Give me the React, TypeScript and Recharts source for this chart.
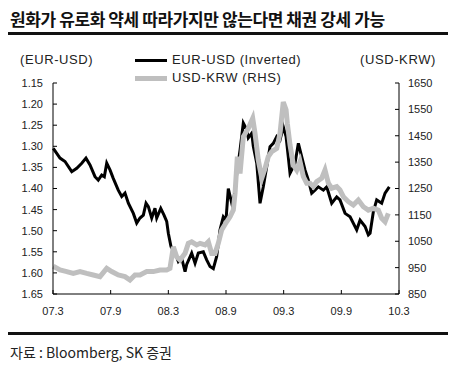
import { Line, LineChart, XAxis, YAxis } from 'recharts';

// EUR-USD (inverted, left axis) vs USD-KRW (right axis), Mar 2007 – Mar 2010.
// x = months since 2007-03. Each series has its own sample points.

const eurMonths = [
  0.03, 0.73, 1.25, 1.95, 2.47, 2.99, 3.43, 3.85, 4.37, 4.71, 5.07, 5.34, 5.59, 5.93, 6.27, 6.79,
  7.15, 7.49, 7.84, 8.36, 8.71, 9.05, 9.4, 9.68, 9.92, 10.27, 10.61, 10.79, 11.21, 11.55, 11.83,
  12.0, 12.28, 12.7, 13.04, 13.39, 13.74, 13.91, 14.43, 14.78, 15.12, 15.64, 15.99, 16.34, 16.68,
  17.03, 17.38, 17.72, 18.0, 18.24, 18.6, 18.94, 19.12, 19.46, 19.8, 20.16, 20.32, 20.68, 20.84,
  21.2, 21.54, 21.88, 22.24, 22.58, 22.92, 23.28, 23.62, 23.96, 24.25, 24.48, 24.66, 25.18, 25.53,
  25.88, 26.22, 26.57, 26.92, 27.26, 27.61, 28.13, 28.48, 29.0, 29.52, 29.86, 30.39, 30.91, 31.6,
  31.95, 32.47, 32.81, 32.99, 33.33, 33.68, 34.2, 34.55, 34.99,
];

const eurUsd = [
  1.305, 1.328, 1.336, 1.36, 1.352, 1.34, 1.328, 1.344, 1.372, 1.38, 1.368, 1.372, 1.34, 1.356,
  1.376, 1.404, 1.419, 1.411, 1.435, 1.459, 1.482, 1.47, 1.463, 1.435, 1.443, 1.47, 1.447, 1.47,
  1.447, 1.463, 1.478, 1.506, 1.538, 1.553, 1.573, 1.565, 1.597, 1.58, 1.553, 1.577, 1.553, 1.55,
  1.569, 1.585, 1.59, 1.561, 1.498, 1.467, 1.475, 1.4, 1.435, 1.41, 1.364, 1.309, 1.245, 1.261,
  1.28, 1.269, 1.3, 1.34, 1.435, 1.396, 1.348, 1.301, 1.293, 1.277, 1.285, 1.254, 1.277, 1.325,
  1.364, 1.34, 1.293, 1.325, 1.356, 1.38, 1.411, 1.404, 1.396, 1.404, 1.396, 1.435, 1.42, 1.427,
  1.459, 1.467, 1.498, 1.475, 1.49, 1.51, 1.506, 1.455, 1.427, 1.435, 1.411, 1.396,
];

const krwMonths = [
  0.03, 0.73, 1.43, 2.11, 2.81, 3.51, 4.19, 4.89, 5.59, 6.11, 6.79, 7.49, 8.01, 8.53, 9.05, 9.75,
  10.44, 11.13, 11.83, 12.17, 12.52, 12.87, 13.22, 13.74, 14.08, 14.43, 14.95, 15.3, 15.82, 16.16,
  16.51, 16.86, 17.2, 17.55, 18.07, 18.42, 18.76, 18.94, 19.18, 19.46, 19.8, 20.32, 20.78, 21.02,
  21.36, 21.72, 22.06, 22.4, 22.76, 23.28, 23.62, 23.96, 24.25, 24.38, 24.66, 25.01, 25.36, 25.7,
  26.05, 26.4, 26.74, 27.09, 27.44, 27.96, 28.3, 28.65, 29.0, 29.52, 29.86, 30.21, 30.73, 31.25,
  31.77, 32.29, 32.81, 33.33, 33.85, 34.2, 34.55, 34.89,
];

const usdKrw = [
  955, 941, 935, 928, 935, 928, 922, 916, 947, 935, 922, 916, 903, 922, 922, 935, 935, 941, 941,
  947, 1029, 991, 979, 1004, 1042, 1048, 1036, 1042, 1036, 1048, 1004, 1004, 1042, 1093, 1124,
  1143, 1168, 1231, 1371, 1307, 1446, 1478, 1516, 1459, 1358, 1289, 1326, 1371, 1390, 1402, 1459,
  1578, 1548, 1497, 1415, 1339, 1320, 1352, 1295, 1270, 1270, 1257, 1276, 1289, 1320, 1270, 1251,
  1257, 1244, 1219, 1200, 1187, 1206, 1181, 1168, 1175, 1168, 1137, 1124, 1156,
];

const xTicks = [0, 6, 12, 18, 24, 30, 36];
const xLabels = ['07.3', '07.9', '08.3', '08.9', '09.3', '09.9', '10.3'];
const leftTicks = [1.15, 1.2, 1.25, 1.3, 1.35, 1.4, 1.45, 1.5, 1.55, 1.6, 1.65];
const rightTicks = [850, 950, 1050, 1150, 1250, 1350, 1450, 1550, 1650];

const eurData = eurMonths.map((m, i) => ({ m, eur: eurUsd[i] }));
const krwData = krwMonths.map((m, i) => ({ m, krw: usdKrw[i] }));

const FONT = "'Liberation Sans', 'Noto Sans CJK KR', sans-serif";
const tick = { fontSize: 11, fill: '#222', fontFamily: FONT };
const label = { position: 'absolute' as const, fontSize: 13, letterSpacing: 0.6, whiteSpace: 'nowrap' as const };

export default function App() {
  return (
    <div
      style={{
        position: 'absolute',
        left: 0,
        top: 0,
        width: 454,
        height: 366,
        background: '#fff',
        fontFamily: FONT,
        color: '#222',
        overflow: 'hidden',
      }}
    >
      <div
        style={{
          position: 'absolute',
          left: 10,
          top: 6,
          fontSize: 17,
          fontWeight: 700,
          letterSpacing: -0.4,
          fontFamily: "'Noto Sans CJK KR', sans-serif",
          color: '#111',
          whiteSpace: 'nowrap',
        }}
      >
        원화가 유로화 약세 따라가지만 않는다면 채권 강세 가능
      </div>
      <div style={{ position: 'absolute', left: 8, top: 32, width: 440, height: 3, background: '#111' }} />

      <LineChart
        width={454}
        height={366}
        margin={{ top: 83, right: 10, bottom: 42, left: 8 }}
        style={{ position: 'absolute', left: 0, top: 0 }}
      >
        <XAxis
          dataKey="m"
          type="number"
          domain={[0, 36]}
          ticks={xTicks}
          tickFormatter={(v) => xLabels[xTicks.indexOf(Number(v))] ?? ''}
          tick={tick}
          tickSize={-4}
          tickMargin={17}
          height={30}
          stroke="#000"
          interval={0}
          allowDuplicatedCategory={false}
        />
        <YAxis
          yAxisId="l"
          orientation="left"
          reversed
          domain={[1.15, 1.65]}
          ticks={leftTicks}
          tickFormatter={(v) => Number(v).toFixed(2)}
          tick={tick}
          tickSize={-4}
          tickMargin={14}
          width={45}
          stroke="#000"
          interval={0}
          allowDataOverflow
        />
        <YAxis
          yAxisId="r"
          orientation="right"
          domain={[850, 1650]}
          ticks={rightTicks}
          tick={tick}
          tickSize={-4}
          tickMargin={13}
          width={45}
          stroke="#000"
          interval={0}
          allowDataOverflow
        />
        <Line
          yAxisId="l"
          data={eurData}
          dataKey="eur"
          type="linear"
          stroke="#000"
          strokeWidth={3}
          dot={false}
          isAnimationActive={false}
        />
        <Line
          yAxisId="r"
          data={krwData}
          dataKey="krw"
          type="linear"
          stroke="#bfbfbf"
          strokeWidth={5}
          dot={false}
          isAnimationActive={false}
        />
      </LineChart>

      <div style={{ ...label, left: 20, top: 52 }}>(EUR-USD)</div>
      <div style={{ ...label, left: 360, top: 52 }}>(USD-KRW)</div>

      <div style={{ position: 'absolute', left: 135, top: 59, width: 32, height: 3, background: '#000' }} />
      <div style={{ ...label, left: 172, top: 52 }}>EUR-USD (Inverted)</div>
      <div style={{ position: 'absolute', left: 135, top: 76, width: 32, height: 5, background: '#bfbfbf' }} />
      <div style={{ ...label, left: 172, top: 70 }}>USD-KRW (RHS)</div>

      <div style={{ position: 'absolute', left: 8, top: 332, width: 440, height: 3, background: '#111' }} />
      <div
        style={{
          position: 'absolute',
          left: 10,
          top: 342,
          fontSize: 14,
          fontFamily: "'Noto Sans CJK KR', sans-serif",
          color: '#222',
          whiteSpace: 'nowrap',
        }}
      >
        자료 : Bloomberg, SK 증권
      </div>
    </div>
  );
}
